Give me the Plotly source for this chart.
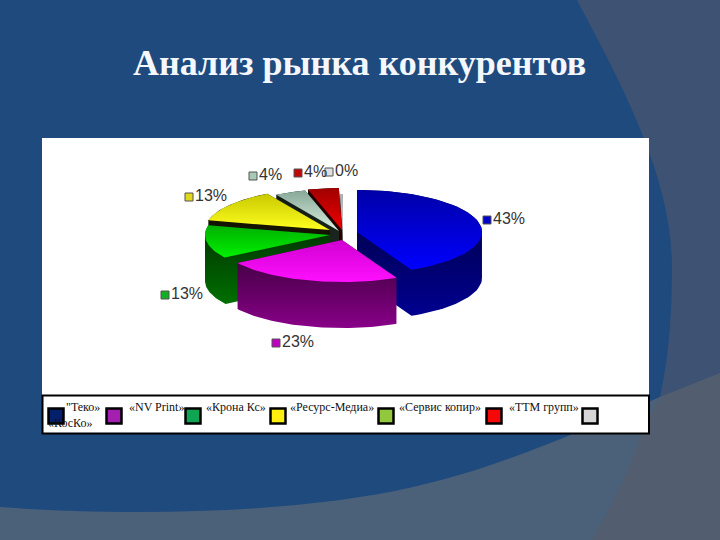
import numpy as np
import plotly.graph_objects as go

# ---- data ----
categories = ['"Теко»', '«NV Print»', '«Крона Кс»', '«Ресурс-Медиа»', '«Сервис копир»', '«ТТМ групп»', '«КосКо»']
values = [43, 23, 13, 13, 4, 4, 0.4]
title_text = "Анализ рынка конкурентов"

# ---- styling ----
legend_colors = ["#04206c", "#a31fb0", "#10a552", "#ffee10", "#92c83e", "#f60808", "#d6d6d6"]
key_colors = ["#0000c8", "#c000c0", "#10b020", "#e0d818", "#a8c8b8", "#c00808", "#e0e0e0"]
top_colors = [("#0000ff", "#0000a8"), ("#ff10ff", "#d000d0"), ("#00f000", "#00b000"),
              ("#ffff20", "#c8c800"), ("#d8f0e0", "#88a898"), ("#f00000", "#a00000"), ("#d0d0d0", "#b0b0b0")]
wall_colors = [("#000090", "#00003c"), ("#880088", "#300030"), ("#007000", "#003000"),
               ("#181800", "#101000"), ("#203028", "#101810"), ("#300000", "#200000"), ("#808080", "#404040")]
apex_x = [357, 342, 330, 330, 339, 342, 343]
apex_y = [232, 240, 235, 230, 231, 230, 236]
label_key_x = [487, 276, 165, 189, 253, 298, 329]
label_y = [220, 343, 295, 197, 176, 173, 172]
legend_key_x = [56, 114, 193, 278, 386, 494, 590]
legend_text_x = [66, 129, 206, 290, 399, 509, 48]
legend_text_y = [408, 408, 408, 408, 408, 408, 424]
draw_order = [6, 5, 4, 3, 2, 0, 1]
RX, RY, DEPTH = 125, 42, 46


def hull(px, py):
    pts = sorted(set(zip(px.tolist(), py.tolist())))
    def half(seq):
        out = []
        for p in seq:
            while len(out) > 1 and (out[-1][0]-out[-2][0])*(p[1]-out[-2][1]) - (out[-1][1]-out[-2][1])*(p[0]-out[-2][0]) <= 0:
                out.pop()
            out.append(p)
        return out[:-1]
    h = half(pts) + half(pts[::-1])
    h.append(h[0])
    return [p[0] for p in h], [p[1] for p in h]


fractions = np.array(values) / sum(values)
ends = np.cumsum(fractions) * 2 * np.pi
starts = ends - fractions * 2 * np.pi

fig = go.Figure()
for i in draw_order:
    th = np.linspace(starts[i], ends[i], 60)
    xs = np.r_[apex_x[i], apex_x[i] + RX * np.sin(th)]
    ys = np.r_[apex_y[i], apex_y[i] - RY * np.cos(th)]
    wx, wy = hull(np.r_[xs, xs], np.r_[ys, ys + DEPTH])
    fig.add_trace(go.Scatter(
        x=wx, y=wy, mode="lines", line=dict(width=0), fill="toself", hoverinfo="skip",
        fillgradient=dict(type="vertical", colorscale=[[0, wall_colors[i][0]], [1, wall_colors[i][1]]]),
    ))
    fig.add_trace(go.Scatter(
        x=np.r_[xs, xs[0]], y=np.r_[ys, ys[0]], mode="lines", line=dict(width=0), fill="toself",
        hoverinfo="skip",
        fillgradient=dict(type="vertical", colorscale=[[0, top_colors[i][0]], [1, top_colors[i][1]]]),
    ))

# percentage labels with their keys
fig.add_trace(go.Scatter(
    x=label_key_x, y=label_y, mode="markers+text",
    marker=dict(symbol="square", size=8, color=key_colors, line=dict(color="#555555", width=1)),
    text=[f"{round(v / sum(values) * 100)}%" for v in values],
    textposition="middle right",
    textfont=dict(family="Liberation Sans", size=16, color="#333333"),
    hoverinfo="skip", cliponaxis=False,
))

# legend strip
fig.add_trace(go.Scatter(
    x=legend_key_x, y=[416] * len(legend_key_x), mode="markers",
    marker=dict(symbol="square", size=15, color=legend_colors, line=dict(color="#000000", width=2.5)),
    hoverinfo="skip",
))
fig.add_trace(go.Scatter(
    x=legend_text_x, y=legend_text_y, mode="text", text=categories, textposition="middle right",
    textfont=dict(family="Liberation Serif", size=12, color="#101010"), hoverinfo="skip",
))

shapes = [
    dict(type="path", path="M577,0 C625,90 672,180 672,267 C672,310 670,350 660,397 L720,373 L720,0 Z",
         fillcolor="#3e5373", line_width=0, layer="below"),
    dict(type="path", path="M0,507 C120,516 290,515 413,487 C490,470 560,440 660,397 "
                           "L720,373 L720,540 L0,540 Z",
         fillcolor="#4b6179", line_width=0, layer="below"),
    dict(type="path", path="M660,397 L720,373 L720,540 L592,540 C612,505 630,470 640,437 Z",
         fillcolor="#525d6f", line_width=0, layer="below"),
    dict(type="rect", x0=42, x1=649, y0=138, y1=396, fillcolor="#ffffff", line_width=0, layer="below"),
    dict(type="rect", x0=42.5, x1=649, y0=395.5, y1=433.5, fillcolor="#ffffff",
         line=dict(color="#000000", width=2), layer="below"),
]

fig.update_layout(
    width=720, height=540, margin=dict(l=0, r=0, t=0, b=0),
    paper_bgcolor="#1f4a7d", plot_bgcolor="rgba(0,0,0,0)", showlegend=False, shapes=shapes,
    xaxis=dict(range=[0, 720], visible=False, fixedrange=True),
    yaxis=dict(range=[540, 0], visible=False, fixedrange=True),
    annotations=[dict(x=359, y=63, xref="x", yref="y", text=f"<b>{title_text}</b>", showarrow=False,
                      font=dict(family="Liberation Serif", size=36, color="#f4f8fc"))],
)
fig.write_html("out.html", config=dict(displayModeBar=False),
               post_script="document.body.style.margin='0';")
